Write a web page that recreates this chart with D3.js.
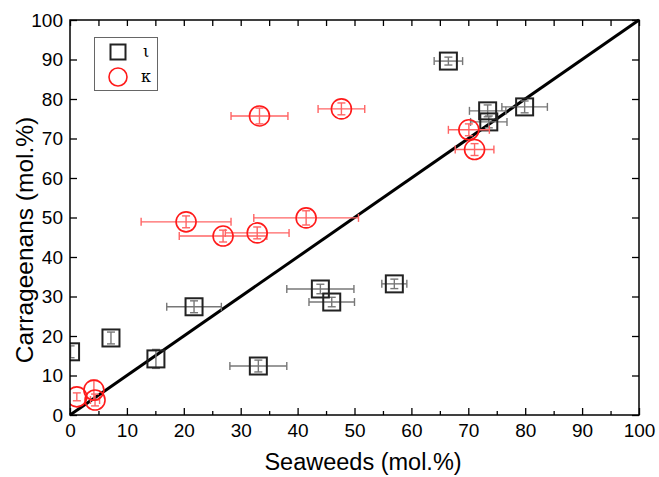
<!DOCTYPE html>
<html>
<head>
<meta charset="utf-8">
<script src="https://cdn.jsdelivr.net/npm/d3@7"></script>
<style>
  html, body { margin: 0; padding: 0; background: #fff; }
  svg { display: block; }
</style>
</head>
<body>
<svg id="chart" width="659" height="477"></svg>
<script>
// Iota-carrageenan: seaweed content vs. carrageenan content (mol.%)
const iotaX    = [66.5, 79.9, 73.4, 73.6, 0.1, 7.2, 15.1, 21.8, 33.1, 44.0, 46.0, 57.0];
const iotaY    = [89.6, 78.0, 77.0, 74.2, 16.0, 19.5, 14.2, 27.4, 12.4, 31.9, 28.6, 33.2];
const iotaXErr = [2.5, 4.0, 3.2, 3.2, 0, 0, 0, 4.8, 5.0, 5.9, 4.0, 2.2];
const iotaYErr = [1.0, 1.5, 1.5, 1.5, 1.5, 1.5, 2.4, 1.5, 1.5, 1.2, 1.2, 1.2];

// Kappa-carrageenan
const kappaX    = [33.3, 47.7, 70.1, 71.1, 20.4, 26.9, 32.9, 41.5, 1.2, 4.2, 4.4];
const kappaY    = [75.7, 77.5, 72.2, 67.2, 48.9, 45.3, 46.1, 49.9, 4.6, 6.3, 3.8];
const kappaXErr = [5.0, 4.1, 3.6, 3.4, 7.9, 7.7, 5.6, 9.2, 0, 0, 0.8];
const kappaYErr = [2.0, 1.5, 1.5, 1.5, 1.5, 1.5, 1.5, 1.8, 1.0, 2.5, 1.5];

const xTicks = [0, 10, 20, 30, 40, 50, 60, 70, 80, 90, 100];
const yTicks = [0, 10, 20, 30, 40, 50, 60, 70, 80, 90, 100];
const minorTicks = [5, 15, 25, 35, 45, 55, 65, 75, 85, 95];
const legendLabels = ["ι", "κ"];

const svg = d3.select("#chart");
const pL = 70, pR = 639, pT = 20, pB = 415;

const x = d3.scaleLinear().domain([0, 100]).range([pL, pR]);
const y = d3.scaleLinear().domain([0, 100]).range([pB, pT]);

const font = "'Liberation Sans', Arial, sans-serif";

svg.append("defs").append("clipPath").attr("id", "plotClip")
  .append("rect").attr("x", pL).attr("y", pT)
  .attr("width", pR - pL).attr("height", pB - pT);

// 1:1 reference line
svg.append("line")
  .attr("x1", x(0)).attr("y1", y(0)).attr("x2", x(100)).attr("y2", y(100))
  .attr("stroke", "#000").attr("stroke-width", 3);

const plot = svg.append("g").attr("clip-path", "url(#plotClip)");

function series(xs, ys, xe, ye, barColor, drawMarker) {
  const data = xs.map((v, i) => ({ x: v, y: ys[i], xe: xe[i], ye: ye[i] }));
  const g = plot.append("g");
  const cap = 4;
  data.forEach(d => {
    const eb = g.append("g").attr("stroke", barColor).attr("stroke-width", 1.4).attr("fill", "none");
    if (d.xe > 0) {
      eb.append("line").attr("x1", x(d.x - d.xe)).attr("x2", x(d.x + d.xe))
        .attr("y1", y(d.y)).attr("y2", y(d.y));
      eb.append("line").attr("x1", x(d.x - d.xe)).attr("x2", x(d.x - d.xe))
        .attr("y1", y(d.y) - cap).attr("y2", y(d.y) + cap);
      eb.append("line").attr("x1", x(d.x + d.xe)).attr("x2", x(d.x + d.xe))
        .attr("y1", y(d.y) - cap).attr("y2", y(d.y) + cap);
    }
    if (d.ye > 0) {
      eb.append("line").attr("x1", x(d.x)).attr("x2", x(d.x))
        .attr("y1", y(d.y - d.ye)).attr("y2", y(d.y + d.ye));
      eb.append("line").attr("x1", x(d.x) - cap).attr("x2", x(d.x) + cap)
        .attr("y1", y(d.y - d.ye)).attr("y2", y(d.y - d.ye));
      eb.append("line").attr("x1", x(d.x) - cap).attr("x2", x(d.x) + cap)
        .attr("y1", y(d.y + d.ye)).attr("y2", y(d.y + d.ye));
    }
  });
  data.forEach(d => drawMarker(g, x(d.x), y(d.y)));
}

function square(g, cx, cy, s = 17) {
  g.append("rect").attr("x", cx - s / 2).attr("y", cy - s / 2)
    .attr("width", s).attr("height", s)
    .attr("fill", "none").attr("stroke", "#222").attr("stroke-width", 2);
}
function circle(g, cx, cy, r = 10) {
  g.append("circle").attr("cx", cx).attr("cy", cy).attr("r", r)
    .attr("fill", "none").attr("stroke", "#ff1a1a").attr("stroke-width", 1.6);
}

series(iotaX, iotaY, iotaXErr, iotaYErr, "#777", square);
series(kappaX, kappaY, kappaXErr, kappaYErr, "#ff6464", circle);

// Frame and ticks
const axes = svg.append("g");
axes.append("rect").attr("x", pL).attr("y", pT)
  .attr("width", pR - pL).attr("height", pB - pT)
  .attr("fill", "none").attr("stroke", "#000").attr("stroke-width", 1.5);

const bottomAxis = d3.axisBottom(x).tickValues(xTicks).tickSizeInner(-7).tickSizeOuter(0)
  .tickPadding(9).tickFormat(d3.format("d"));
const gx = axes.append("g").attr("transform", `translate(0,${pB})`).call(bottomAxis);
gx.select(".domain").remove();
gx.selectAll("text").attr("font-family", font).attr("font-size", 19).attr("fill", "#000");
gx.selectAll("line").attr("stroke", "#000").attr("stroke-width", 1.3);

const bottomMinor = d3.axisBottom(x).tickValues(minorTicks).tickSizeInner(-4).tickSizeOuter(0).tickFormat("");
const gxm = axes.append("g").attr("transform", `translate(0,${pB})`).call(bottomMinor);
gxm.select(".domain").remove();
gxm.selectAll("line").attr("stroke", "#000").attr("stroke-width", 1.3);

const topAxis = d3.axisTop(x).tickValues(xTicks.concat(minorTicks)).tickSizeInner(-6).tickSizeOuter(0).tickFormat("");
const gt = axes.append("g").attr("transform", `translate(0,${pT})`).call(topAxis);
gt.select(".domain").remove();
gt.selectAll("line").attr("stroke", "#000").attr("stroke-width", 1.3);

const leftAxis = d3.axisLeft(y).tickValues(yTicks).tickSizeInner(-7).tickSizeOuter(0)
  .tickPadding(7).tickFormat(d3.format("d"));
const gy = axes.append("g").attr("transform", `translate(${pL},0)`).call(leftAxis);
gy.select(".domain").remove();
gy.selectAll("text").attr("font-family", font).attr("font-size", 19).attr("fill", "#000");
gy.selectAll("line").attr("stroke", "#000").attr("stroke-width", 1.3);

const rightAxis = d3.axisRight(y).tickValues(yTicks).tickSizeInner(-7).tickSizeOuter(0).tickFormat("");
const gr = axes.append("g").attr("transform", `translate(${pR},0)`).call(rightAxis);
gr.select(".domain").remove();
gr.selectAll("line").attr("stroke", "#000").attr("stroke-width", 1.3);

// Axis titles
svg.append("text").attr("x", 363).attr("y", 470)
  .attr("text-anchor", "middle").attr("font-family", font).attr("font-size", 23.5)
  .text("Seaweeds (mol.%)");
svg.append("text").attr("transform", `translate(33,240) rotate(-90)`)
  .attr("text-anchor", "middle").attr("font-family", font).attr("font-size", 24.5)
  .text("Carrageenans (mol.%)");

// Legend
const lg = svg.append("g");
lg.append("rect").attr("x", 94.5).attr("y", 37.5).attr("width", 63).attr("height", 53)
  .attr("fill", "#fff").attr("stroke", "#666").attr("stroke-width", 1);
square(lg, 118, 52, 15);
circle(lg, 118, 77, 9);
const serif = "'DejaVu Serif', 'Liberation Serif', serif";
lg.append("text").attr("x", 143).attr("y", 57).attr("font-family", serif).attr("font-size", 16).text(legendLabels[0]);
lg.append("text").attr("x", 141).attr("y", 82).attr("font-family", serif).attr("font-size", 16).text(legendLabels[1]);
</script>
</body>
</html>
